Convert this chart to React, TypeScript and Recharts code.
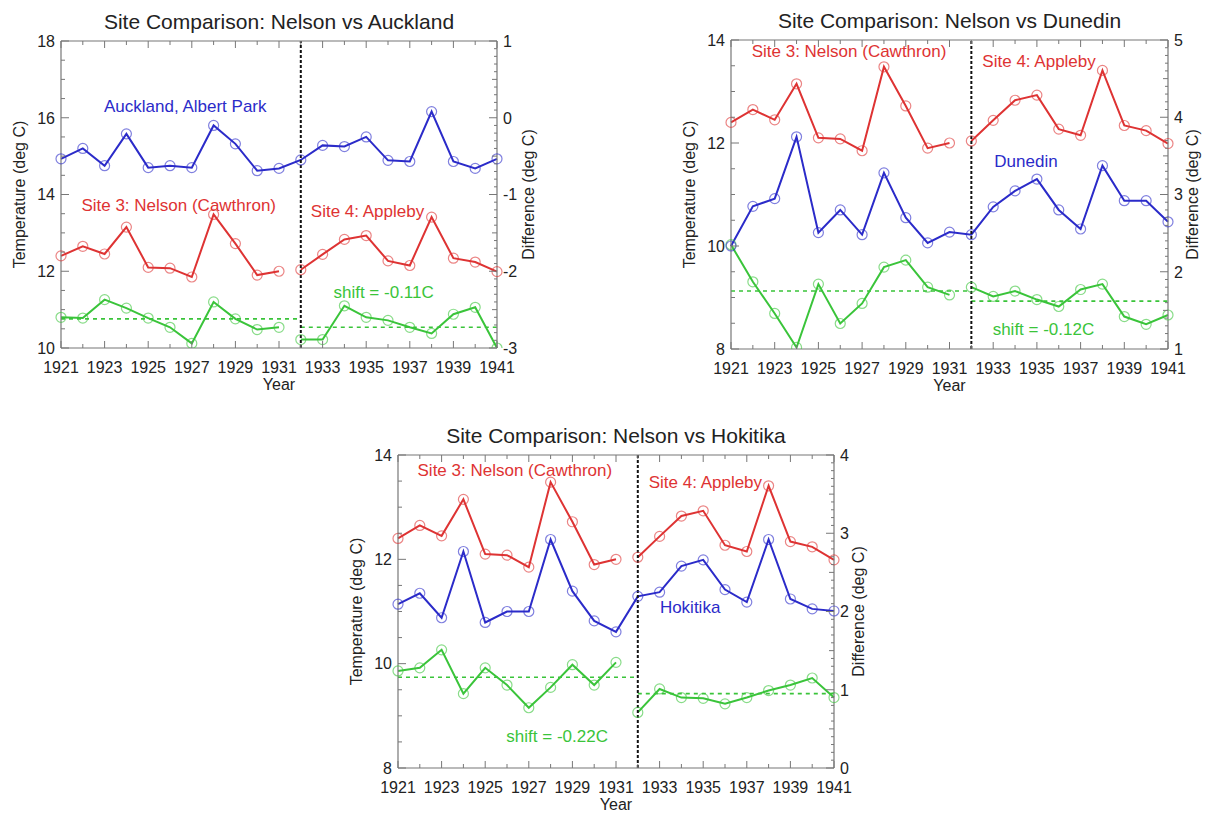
import { Line, LineChart, ReferenceDot, ReferenceLine, XAxis, YAxis } from 'recharts'

const years = [
  1921, 1922, 1923, 1924, 1925, 1926, 1927, 1928, 1929, 1930, 1931,
  1932, 1933, 1934, 1935, 1936, 1937, 1938, 1939, 1940, 1941,
]
const yearLabels = [1921, 1923, 1925, 1927, 1929, 1931, 1933, 1935, 1937, 1939, 1941]

// Site 3: Nelson (Cawthron) 1921-1931, then Site 4: Appleby 1932-1941
const nelson = [12.4, 12.65, 12.45, 13.15, 12.1, 12.08, 11.85, 13.48, 12.72, 11.9, 12.0]
const appleby = [12.04, 12.44, 12.83, 12.93, 12.27, 12.15, 13.41, 12.34, 12.24, 11.99]

// comparison stations, annual means
const auckland = [
  14.93, 15.2, 14.75, 15.58, 14.7, 14.75, 14.7, 15.8, 15.32, 14.62, 14.68,
  14.9, 15.28, 15.25, 15.5, 14.89, 14.86, 16.16, 14.86, 14.68, 14.93,
]
const dunedin = [
  10.0, 10.77, 10.92, 12.12, 10.26, 10.7, 10.22, 11.42, 10.55, 10.06, 10.27,
  10.22, 10.76, 11.07, 11.3, 10.7, 10.33, 11.56, 10.88, 10.88, 10.47,
]
const hokitika = [
  11.14, 11.35, 10.88, 12.15, 10.79, 11.0, 11.0, 12.38, 11.39, 10.82, 10.61,
  11.29, 11.37, 11.87, 11.99, 11.42, 11.18, 12.38, 11.24, 11.05, 11.01,
]

// Nelson minus comparison site
const diffAuckland = [
  -2.6, -2.61, -2.37, -2.48, -2.61, -2.73, -2.94, -2.4, -2.62, -2.76, -2.73,
  -2.89, -2.89, -2.45, -2.6, -2.64, -2.73, -2.81, -2.56, -2.47, -3.0,
]
const diffDunedin = [
  2.35, 1.87, 1.46, 1.02, 1.84, 1.33, 1.59, 2.06, 2.15, 1.8, 1.7,
  1.8, 1.68, 1.75, 1.64, 1.55, 1.77, 1.84, 1.42, 1.32, 1.44,
]
const diffHokitika = [
  1.24, 1.28, 1.51, 0.95, 1.28, 1.06, 0.77, 1.03, 1.32, 1.06, 1.35,
  0.71, 1.01, 0.9, 0.89, 0.82, 0.9, 0.99, 1.06, 1.15, 0.9,
]

// mean difference before / after the move
const meanAuckland = [-2.62, -2.73]
const meanDunedin = [1.75, 1.62]
const meanHokitika = [1.16, 0.95]

const FONT = '"Liberation Sans", Arial, Helvetica, sans-serif'
const BLUE = '#2b2bc9'
const RED = '#de3333'
const GREEN = '#3ac43a'
const AXIS = '#777'
const INK = '#222'

const steps = (lo: number, hi: number, step: number) =>
  Array.from({ length: Math.round((hi - lo) / step) + 1 }, (_, i) => +(lo + i * step).toFixed(2))
const onStep = (v: number, step: number) => Math.abs(v / step - Math.round(v / step)) < 1e-6

const SPLIT = nelson.length

function rows(site: number[], diff: number[]) {
  return years.map((year, i) => ({
    year,
    nelson: i < SPLIT ? nelson[i] : null,
    appleby: i >= SPLIT ? appleby[i - SPLIT] : null,
    site: site[i],
    diffA: i < SPLIT ? diff[i] : null,
    diffB: i >= SPLIT ? diff[i] : null,
  }))
}

const txt = { fontSize: 16, fill: INK, fontFamily: FONT }

const BottomTick = ({ x, y, payload }: any) => {
  const major = yearLabels.includes(payload.value)
  return (
    <g>
      <line x1={x} x2={x} y1={y} y2={y - (major ? 7 : 4)} stroke={AXIS} />
      {major && (
        <text x={x} y={y + 25} textAnchor="middle" {...txt}>
          {payload.value}
        </text>
      )}
    </g>
  )
}

const TopTick = ({ x, y, payload }: any) => {
  const major = yearLabels.includes(payload.value)
  return <line x1={x} x2={x} y1={y} y2={y + (major ? 7 : 4)} stroke={AXIS} />
}

const leftTick = (majorStep: number) => ({ x, y, payload }: any) => {
  const major = onStep(payload.value, majorStep)
  return (
    <g>
      <line x1={x} x2={x + (major ? 8 : 4)} y1={y} y2={y} stroke={AXIS} />
      {major && (
        <text x={x - 6} y={y} dy="0.36em" textAnchor="end" {...txt}>
          {payload.value}
        </text>
      )}
    </g>
  )
}

const RightTick = ({ x, y, payload }: any) => {
  const major = onStep(payload.value, 1)
  const half = onStep(payload.value, 0.5)
  return (
    <g>
      <line x1={x} x2={x - (major ? 8 : half ? 5 : 3)} y1={y} y2={y} stroke={AXIS} />
      {major && (
        <text x={x + 6} y={y} dy="0.36em" textAnchor="start" {...txt}>
          {payload.value}
        </text>
      )}
    </g>
  )
}

const dotStyle = (color: string) => ({
  r: 5,
  stroke: color,
  strokeOpacity: 0.6,
  strokeWidth: 1.2,
  fill: 'none',
})

type Note = { text: string; color: string; x: number; y: number }

const panels = [
  {
    title: 'Site Comparison: Nelson vs Auckland',
    site: auckland,
    diff: diffAuckland,
    means: meanAuckland,
    tempDomain: [10, 18],
    diffDomain: [-3, 1],
    box: { left: 0, top: 0, width: 560, height: 400 },
    margin: { top: 40, left: 11, right: 23, bottom: 8 },
    rightGap: 31,
    notes: [
      { text: 'Auckland, Albert Park', color: BLUE, x: 1926.7, y: 16.31 },
      { text: 'Site 3: Nelson (Cawthron)', color: RED, x: 1926.4, y: 13.74 },
      { text: 'Site 4: Appleby', color: RED, x: 1935.06, y: 13.56 },
      { text: 'shift = -0.11C', color: GREEN, x: 1935.8, y: 11.47 },
    ] as Note[],
  },
  {
    title: 'Site Comparison: Nelson vs Dunedin',
    site: dunedin,
    diff: diffDunedin,
    means: meanDunedin,
    tempDomain: [8, 14],
    diffDomain: [1, 5],
    box: { left: 670, top: 0, width: 541, height: 400 },
    margin: { top: 39, left: 11, right: 3, bottom: 7 },
    rightGap: 24,
    notes: [
      { text: 'Site 3: Nelson (Cawthron)', color: RED, x: 1926.4, y: 13.79 },
      { text: 'Site 4: Appleby', color: RED, x: 1935.1, y: 13.6 },
      { text: 'Dunedin', color: BLUE, x: 1934.5, y: 11.65 },
      { text: 'shift = -0.12C', color: GREEN, x: 1935.3, y: 8.39 },
    ] as Note[],
  },
  {
    title: 'Site Comparison: Nelson vs Hokitika',
    site: hokitika,
    diff: diffHokitika,
    means: meanHokitika,
    tempDomain: [8, 14],
    diffDomain: [0, 4],
    box: { left: 337, top: 415, width: 560, height: 400 },
    margin: { top: 39, left: 11, right: 23, bottom: 3 },
    rightGap: 24,
    notes: [
      { text: 'Site 3: Nelson (Cawthron)', color: RED, x: 1926.36, y: 13.71 },
      { text: 'Site 4: Appleby', color: RED, x: 1935.1, y: 13.49 },
      { text: 'Hokitika', color: BLUE, x: 1934.4, y: 11.08 },
      { text: 'shift = -0.22C', color: GREEN, x: 1928.3, y: 8.62 },
    ] as Note[],
  },
]

type PanelCfg = (typeof panels)[number]

function Panel({ cfg }: { cfg: PanelCfg }) {
  const data = rows(cfg.site, cfg.diff)
  const [t0, t1] = cfg.tempDomain
  const [d0, d1] = cfg.diffDomain
  return (
    <div style={{ position: 'absolute', left: cfg.box.left, top: cfg.box.top }}>
      <LineChart width={cfg.box.width} height={cfg.box.height} data={data} margin={cfg.margin}>
        <XAxis
          xAxisId="x"
          dataKey="year"
          type="number"
          domain={[1921, 1941]}
          ticks={years}
          interval={0}
          tickSize={0}
          tickMargin={0}
          tickLine={false}
          tick={BottomTick}
          axisLine={{ stroke: AXIS, strokeWidth: 1.2 }}
          height={44}
          label={({ viewBox }: any) => (
            <text x={viewBox.x + viewBox.width / 2} y={viewBox.y + 42} textAnchor="middle" {...txt}>
              Year
            </text>
          )}
        />
        <XAxis
          xAxisId="top"
          orientation="top"
          dataKey="year"
          type="number"
          domain={[1921, 1941]}
          ticks={years}
          interval={0}
          tickSize={0}
          tickMargin={0}
          tickLine={false}
          tick={TopTick}
          axisLine={{ stroke: AXIS, strokeWidth: 1.2 }}
          height={1}
          label={({ viewBox }: any) => (
            <text
              x={viewBox.x + viewBox.width / 2}
              y={viewBox.y - 11}
              textAnchor="middle"
              fontSize={21}
              fill={INK}
              fontFamily={FONT}
            >
              {cfg.title}
            </text>
          )}
        />
        <YAxis
          yAxisId="temp"
          domain={[t0, t1]}
          ticks={steps(t0, t1, 0.5)}
          interval={0}
          allowDataOverflow
          tickSize={0}
          tickMargin={0}
          tickLine={false}
          tick={leftTick(2)}
          axisLine={{ stroke: AXIS, strokeWidth: 1.2 }}
          width={50}
          label={({ viewBox }: any) => {
            const x = viewBox.x + viewBox.width - 42
            const y = viewBox.y + viewBox.height / 2
            return (
              <text x={x} y={y} dy="0.36em" transform={`rotate(-90 ${x} ${y})`} textAnchor="middle" {...txt}>
                Temperature (deg C)
              </text>
            )
          }}
        />
        <YAxis
          yAxisId="diff"
          orientation="right"
          domain={[d0, d1]}
          ticks={steps(d0, d1, 0.1)}
          interval={0}
          allowDataOverflow
          tickSize={0}
          tickMargin={0}
          tickLine={false}
          tick={RightTick}
          axisLine={{ stroke: AXIS, strokeWidth: 1.2 }}
          width={40}
          label={({ viewBox }: any) => {
            const x = viewBox.x + cfg.rightGap
            const y = viewBox.y + viewBox.height / 2
            return (
              <text x={x} y={y} dy="0.36em" transform={`rotate(-90 ${x} ${y})`} textAnchor="middle" {...txt}>
                Difference (deg C)
              </text>
            )
          }}
        />

        <ReferenceLine
          xAxisId="x"
          yAxisId="diff"
          segment={[
            { x: 1921, y: cfg.means[0] },
            { x: 1932, y: cfg.means[0] },
          ]}
          stroke={GREEN}
          strokeWidth={1.6}
          strokeDasharray="4 4"
        />
        <ReferenceLine
          xAxisId="x"
          yAxisId="diff"
          segment={[
            { x: 1932, y: cfg.means[1] },
            { x: 1941, y: cfg.means[1] },
          ]}
          stroke={GREEN}
          strokeWidth={1.6}
          strokeDasharray="4 4"
        />

        <Line xAxisId="x" yAxisId="diff" dataKey="diffA" stroke={GREEN} strokeWidth={2} dot={dotStyle(GREEN)} isAnimationActive={false} />
        <Line xAxisId="x" yAxisId="diff" dataKey="diffB" stroke={GREEN} strokeWidth={2} dot={dotStyle(GREEN)} isAnimationActive={false} />
        <Line xAxisId="x" yAxisId="temp" dataKey="site" stroke={BLUE} strokeWidth={2} dot={dotStyle(BLUE)} isAnimationActive={false} />
        <Line xAxisId="x" yAxisId="temp" dataKey="nelson" stroke={RED} strokeWidth={2} dot={dotStyle(RED)} isAnimationActive={false} />
        <Line xAxisId="x" yAxisId="temp" dataKey="appleby" stroke={RED} strokeWidth={2} dot={dotStyle(RED)} isAnimationActive={false} />

        <ReferenceLine xAxisId="x" yAxisId="temp" x={1932} stroke="#111" strokeWidth={2} strokeDasharray="3 2" />

        {cfg.notes.map((n) => (
          <ReferenceDot
            key={n.text}
            xAxisId="x"
            yAxisId="temp"
            x={n.x}
            y={n.y}
            r={0}
            fill="none"
            stroke="none"
            label={{ value: n.text, position: 'center', fill: n.color, fontSize: 17, fontFamily: FONT }}
          />
        ))}
      </LineChart>
    </div>
  )
}

export default function App() {
  return (
    <div
      style={{
        position: 'absolute',
        left: 0,
        top: 0,
        width: 1211,
        height: 815,
        background: '#fff',
        fontFamily: FONT,
      }}
    >
      {panels.map((p) => (
        <Panel key={p.title} cfg={p} />
      ))}
    </div>
  )
}
